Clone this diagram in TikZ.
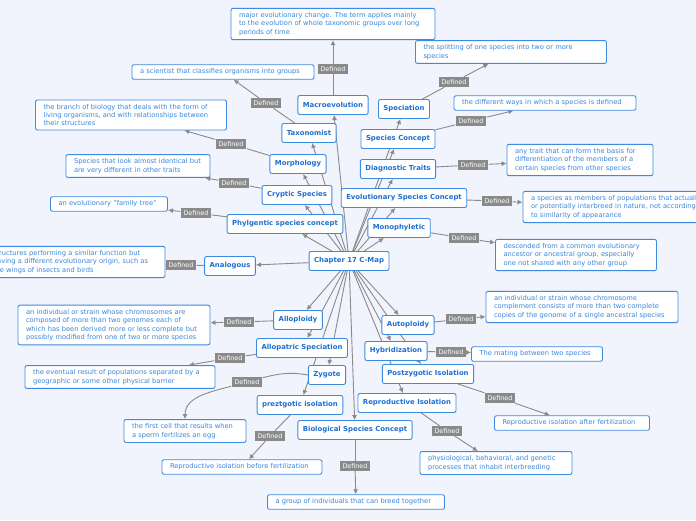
\documentclass[tikz,border=0pt]{standalone}
\usepackage{fontspec}
\setmainfont{DejaVu Sans}
\usetikzlibrary{arrows.meta}
\definecolor{pagebg}{HTML}{F1F4FC}
\definecolor{boxline}{HTML}{3D8BE0}
\definecolor{boxtext}{HTML}{1F6FD0}
\definecolor{deftext}{HTML}{3A86DA}
\definecolor{linkgray}{HTML}{8A8A8A}
\pgfdeclarelayer{back}
\pgfdeclarelayer{edges}
\pgfsetlayers{back,edges,main}
\tikzset{
  topic/.style = {shape=rectangle, rounded corners=2pt, draw=boxline,
                  line width=0.9pt, fill=white, text=boxtext,
                  font=\fontsize{6.9}{8}\selectfont\bfseries,
                  inner xsep=5pt, inner ysep=0pt, minimum height=19pt},
  meaning/.style = {shape=rectangle, rounded corners=2pt, draw=boxline,
                  line width=0.9pt, fill=white, text=deftext, align=left,
                  font=\fontsize{6.7}{8.4}\selectfont,
                  execute at begin node={\hyphenpenalty=10000\relax},
                  inner xsep=8pt, inner ysep=4pt},
  tag/.style = {shape=rectangle, fill=linkgray, text=white,
                font=\fontsize{6.4}{7}\selectfont, inner xsep=3pt, inner ysep=2.5pt},
  link/.style = {draw=linkgray, line width=0.9pt},
  arrowlink/.style = {link, -{Latex[length=5pt,width=5pt]}}
}
\begin{document}
\begin{tikzpicture}[x=1pt, y=-1pt]
  \useasboundingbox (0,0) rectangle (696,520);
  \begin{pgfonlayer}{back}
    \fill[pagebg] (0,0) rectangle (696,520);
  \end{pgfonlayer}

  % central node and topics
  \node[topic] (map) at (349,261) {Chapter 17 C-Map};
  \node[topic] (mac) at (333,105) {Macroevolution};
  \node[topic] (spe) at (404,109) {Speciation};
  \node[topic] (tax) at (309,133) {Taxonomist};
  \node[topic] (spc) at (398,139) {Species Concept};
  \node[topic] (mor) at (298,164) {Morphology};
  \node[topic] (dia) at (398,169) {Diagnostic Traits};
  \node[topic] (cry) at (297,195) {Cryptic Species};
  \node[topic] (evo) at (404,198) {Evolutionary Species Concept};
  \node[topic] (phy) at (285,224) {Phylgentic species concept};
  \node[topic] (mon) at (399,228) {Monophyletic};
  \node[topic] (ana) at (230,266) {Analogous};
  \node[topic] (alo) at (298,320) {Alloploidy};
  \node[topic] (aut) at (408,325) {Autoploidy};
  \node[topic] (alp) at (302,348) {Allopatric Speciation};
  \node[topic] (hyb) at (396,351) {Hybridization};
  \node[topic] (zyg) at (327,375) {Zygote};
  \node[topic] (pos) at (428,374) {Postzygotic Isolation};
  \node[topic] (pre) at (300,405) {preztgotic isolation};
  \node[topic] (rep) at (407,403) {Reproductive Isolation};
  \node[topic] (bio) at (355,430) {Biological Species Concept};

  % meanings
  \node[meaning, text width=188pt] (mac-d) at (333,24) {major evolutionary change. The term applies mainly to the evolution of whole taxonomic groups over long periods of time};
  \node[meaning, text width=166pt] (tax-d) at (223,72) {a scientist that classifies organisms into groups};
  \node[meaning, text width=175pt] (spe-d) at (511,52) {the splitting of one species into two or more species};
  \node[meaning, text width=175pt] (mor-d) at (131,115) {the branch of biology that deals with the form of living organisms, and with relationships between their structures};
  \node[meaning, text width=166pt] (spc-d) at (545,103) {the different ways in which a species is defined};
  \node[meaning, text width=128pt] (cry-d) at (138,166) {Species that look almost identical but are very different in other traits};
  \node[meaning, text width=130pt] (dia-d) at (580,160) {any trait that can form the basis for differentiation of the members of a certain species from other species};
  \node[meaning, text width=101pt] (phy-d) at (109,204) {an evolutionary "family tree"};
  \node[meaning, text width=170pt] (evo-d) at (616,207) {a species as members of populations that actually or potentially interbreed in nature, not according to similarity of appearance};
  \node[meaning, text width=145pt] (mon-d) at (576,255) {descended from a common evolutionary ancestor or ancestral group, especially one not shared with any other group};
  \node[meaning, text width=164pt] (ana-d) at (75,262) {structures performing a similar function but having a different evolutionary origin, such as the wings of insects and birds};
  \node[meaning, text width=176pt] (alo-d) at (114,325) {an individual or strain whose chromosomes are composed of more than two genomes each of which has been derived more or less complete but possibly modified from one of two or more species};
  \node[meaning, text width=176pt] (aut-d) at (582,307) {an individual or strain whose chromosome complement consists of more than two complete copies of the genome of a single ancestral species};
  \node[meaning, text width=174pt] (alp-d) at (120,377) {the eventual result of populations separated by a geographic or some other physical barrier};
  \node[meaning, text width=115pt] (hyb-d) at (537,354) {The mating between two species};
  \node[meaning, text width=106pt] (zyg-d) at (185,431) {the first cell that results when a sperm fertilizes an egg};
  \node[meaning, text width=139pt] (pos-d) at (572,423) {Reproductive isolation after fertilization};
  \node[meaning, text width=144pt] (pre-d) at (242,467) {Reproductive isolation before fertilization};
  \node[meaning, text width=136pt] (rep-d) at (496,463) {physiological, behavioral, and genetic processes that inhabit interbreeding};
  \node[meaning, text width=161pt] (bio-d) at (356,502) {a group of individuals that can breed together};

  % Defined tags
  \node[tag] (mac-l) at (333,69)  {Defined};
  \node[tag] (tax-l) at (266,103) {Defined};
  \node[tag] (spe-l) at (454,82)  {Defined};
  \node[tag] (mor-l) at (231,144) {Defined};
  \node[tag] (spc-l) at (471,121) {Defined};
  \node[tag] (cry-l) at (234,183) {Defined};
  \node[tag] (dia-l) at (473,165) {Defined};
  \node[tag] (phy-l) at (196,213) {Defined};
  \node[tag] (evo-l) at (497,201) {Defined};
  \node[tag] (mon-l) at (464,238) {Defined};
  \node[tag] (ana-l) at (181,265) {Defined};
  \node[tag] (alo-l) at (239,322) {Defined};
  \node[tag] (aut-l) at (461,319) {Defined};
  \node[tag] (alp-l) at (230,358) {Defined};
  \node[tag] (hyb-l) at (451,352) {Defined};
  \node[tag] (zyg-l) at (247,382) {Defined};
  \node[tag] (pos-l) at (500,398) {Defined};
  \node[tag] (pre-l) at (270,436) {Defined};
  \node[tag] (rep-l) at (447,431) {Defined};
  \node[tag] (bio-l) at (355,466) {Defined};

  \begin{pgfonlayer}{edges}
    \foreach \t in {mac,spe,tax,spc,mor,dia,cry,evo,phy,mon,ana,alo,aut,alp,hyb,zyg,pos,pre,rep,bio}
      \draw[arrowlink] (map) -- (\t);
    \foreach \t in {mac,spe,tax,spc,mor,dia,cry,evo,phy,mon,ana,alo,aut,alp,hyb,pos,pre,rep,bio}
      {\draw[link] (\t) -- (\t-l);
       \draw[arrowlink] (\t-l) -- (\t-d);}
    \draw[link] (zyg.west) to[out=170, in=15] (zyg-l);
    \draw[arrowlink] (zyg-l) to[out=195, in=90] (zyg-d.north);
  \end{pgfonlayer}
\end{tikzpicture}
\end{document}
